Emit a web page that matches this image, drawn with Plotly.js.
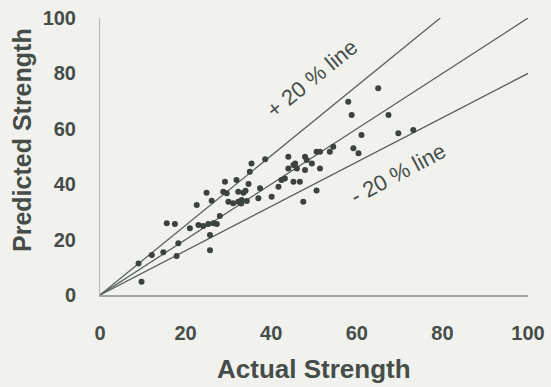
<!DOCTYPE html>
<html>
<head>
<meta charset="utf-8">
<script src="https://cdn.plot.ly/plotly-3.0.1.min.js"></script>
<style>html,body{margin:0;padding:0;background:#f1f2ee;}#chart{width:551px;height:387px;}</style>
</head>
<body>
<div id="chart"></div>
<script>
// Measured points: actual vs predicted strength
const actual = [9.7, 9.0, 12.1, 14.8, 17.9, 18.3, 15.6, 17.5, 21.0, 23.0, 24.1, 25.3, 26.5, 27.3,
  25.7, 25.7, 22.6, 24.9, 26.1, 28.0, 29.2, 29.6, 30.0, 31.1, 32.3, 33.1, 34.3, 31.9, 32.3, 33.5,
  34.7, 35.0, 35.4, 37.0, 37.4, 38.6, 40.1, 41.7, 42.4, 43.2, 44.0, 44.0, 45.2, 45.6, 45.2, 46.7,
  46.0, 47.5, 47.9, 48.3, 47.9, 49.5, 50.6, 51.4, 51.4, 50.6, 53.7, 54.5, 58.0, 58.8, 59.2, 60.4,
  61.1, 65.0, 67.4, 69.7, 73.2, 28.8, 34.0, 33.0];
const predicted = [4.8, 11.4, 14.4, 15.4, 14.1, 18.7, 25.9, 25.6, 24.1, 25.3, 24.9, 25.6, 25.9, 25.6,
  21.7, 16.2, 32.5, 36.9, 34.0, 28.5, 40.9, 36.7, 33.7, 33.1, 33.7, 34.3, 33.9, 41.5, 37.3, 36.9,
  40.1, 44.5, 47.5, 34.9, 38.5, 49.0, 35.5, 39.1, 41.5, 42.1, 49.9, 45.7, 46.9, 47.5, 40.9, 40.9,
  45.7, 33.7, 49.9, 48.7, 45.1, 47.5, 51.7, 51.7, 45.7, 37.7, 51.7, 53.5, 69.8, 65.0, 53.0, 51.2,
  57.8, 74.6, 65.0, 58.4, 59.6, 37.3, 37.6, 33.0];
// Reference lines (end points)
const equalX = [0, 100], equalY = [0, 100];
const plusX = [0, 79.5], plusY = [0, 100];
const minusX = [0, 100], minusY = [0, 80];
const tickVals = [0, 20, 40, 60, 80, 100];
const tickText = ['0', '20', '40', '60', '80', '100'];
const xTitle = 'Actual Strength';
const yTitle = 'Predicted Strength';
const plusLabel = '+ 20 % line';
const minusLabel = '- 20 % line';

const ink = '#464d49';
const lineStyle = {color: '#5a605c', width: 1.3};
const traces = [
  {x: equalX, y: equalY, mode: 'lines', line: lineStyle, hoverinfo: 'skip'},
  {x: plusX, y: plusY, mode: 'lines', line: lineStyle, hoverinfo: 'skip'},
  {x: minusX, y: minusY, mode: 'lines', line: lineStyle, hoverinfo: 'skip'},
  {x: actual, y: predicted, mode: 'markers', marker: {color: '#3c423e', size: 6}}
];
const tickFont = {family: 'Liberation Sans, Arial, sans-serif', size: 20, color: ink, weight: 'bold'};
const layout = {
  width: 551, height: 387,
  margin: {l: 100, r: 23, t: 18, b: 92},
  paper_bgcolor: '#f1f2ee', plot_bgcolor: '#f1f2ee',
  showlegend: false,
  xaxis: {range: [0, 100], tickvals: tickVals, ticktext: tickText, showgrid: false, zeroline: false,
    showline: true, linecolor: '#a4a8a4', linewidth: 1.5, ticks: '', ticklabelstandoff: 19,
    tickfont: tickFont, fixedrange: true},
  yaxis: {range: [0, 100], tickvals: tickVals, ticktext: tickText, showgrid: false, zeroline: false,
    showline: true, linecolor: '#b4b8b4', linewidth: 1, ticks: '', ticklabelstandoff: 19,
    tickfont: tickFont, fixedrange: true},
  annotations: [
    {text: xTitle, xref: 'paper', yref: 'paper', x: 0.5, y: -0.267, xanchor: 'center', yanchor: 'middle',
      showarrow: false, font: {family: 'Liberation Sans, Arial, sans-serif', size: 26, color: ink, weight: 'bold'}},
    {text: yTitle, xref: 'paper', yref: 'paper', x: -0.182, y: 0.56, xanchor: 'center', yanchor: 'middle',
      textangle: -90, showarrow: false, font: {family: 'Liberation Sans, Arial, sans-serif', size: 25, color: ink, weight: 'bold'}},
    {text: plusLabel, x: 49.5, y: 78.3, xref: 'x', yref: 'y', textangle: -39, showarrow: false,
      font: {family: 'Liberation Sans, Arial, sans-serif', size: 22, color: ink}},
    {text: minusLabel, x: 69.6, y: 44.0, xref: 'x', yref: 'y', textangle: -28, showarrow: false,
      font: {family: 'Liberation Sans, Arial, sans-serif', size: 22, color: ink}}
  ]
};
Plotly.newPlot('chart', traces, layout, {displayModeBar: false, staticPlot: true});
</script>
</body>
</html>
